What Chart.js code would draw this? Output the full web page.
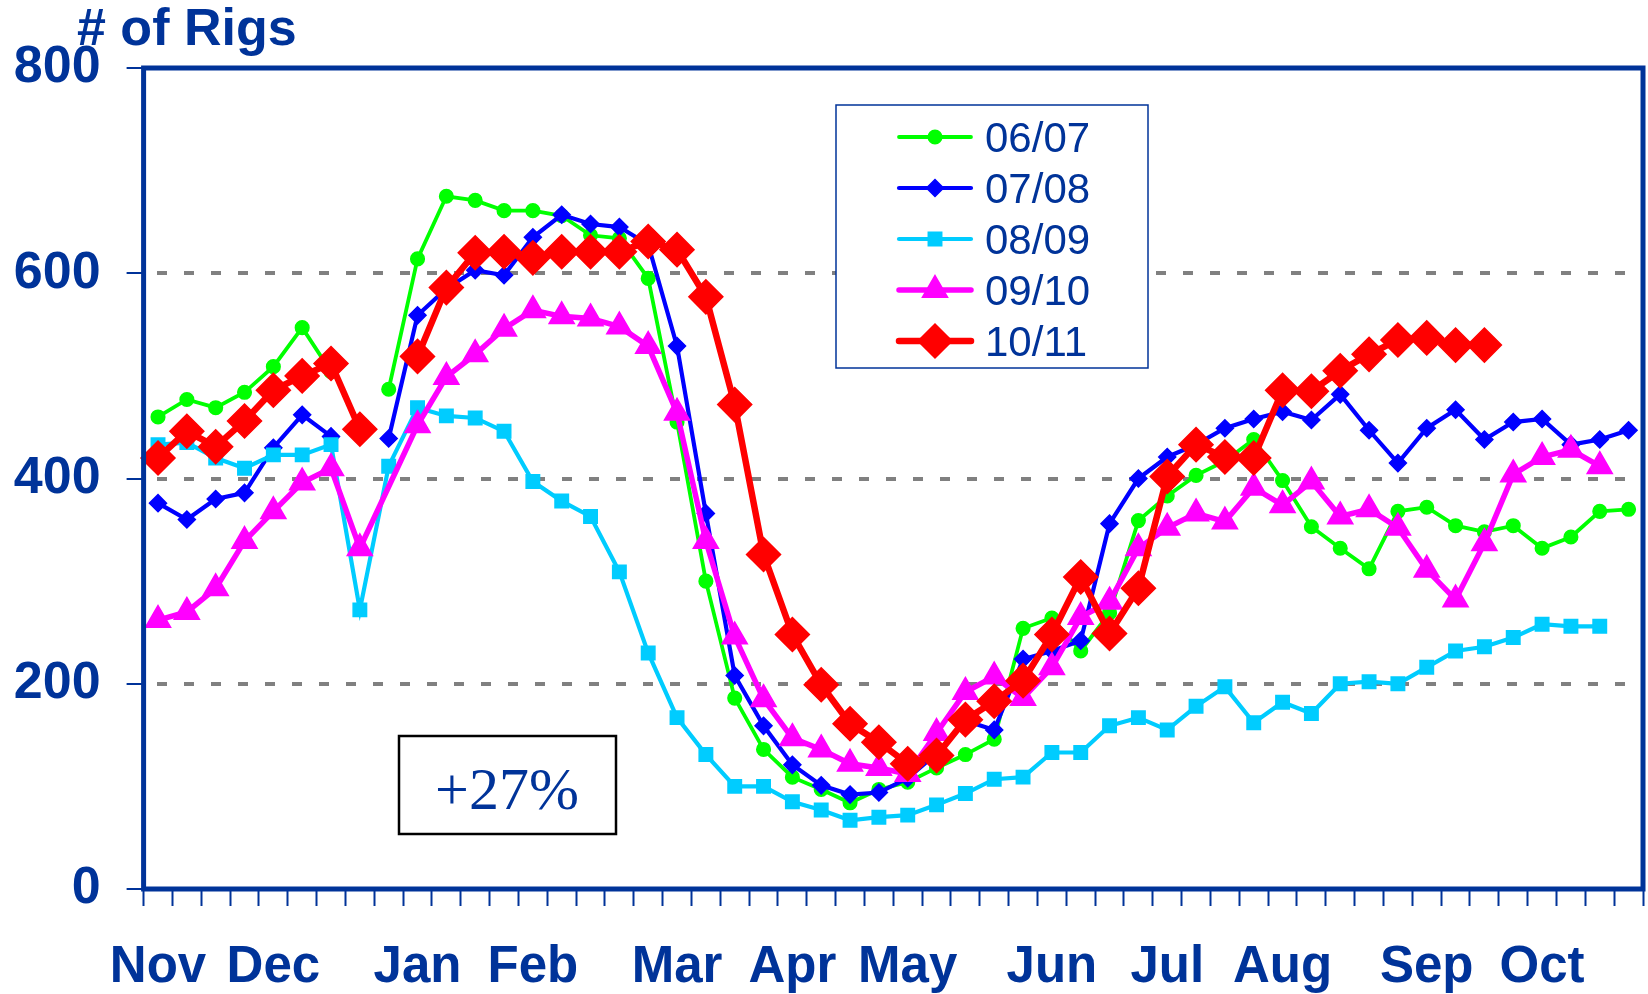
<!DOCTYPE html>
<html lang="en">
<head>
  <meta charset="UTF-8">
  <title># of Rigs</title>
  <script src="https://cdn.jsdelivr.net/npm/chart.js"></script>
  <style>
    html, body { margin: 0; padding: 0; background: #ffffff; }
    #wrap { width: 1648px; height: 994px; }
  </style>
</head>
<body>
  <div id="wrap"><canvas id="rigChart" width="1648" height="994"></canvas></div>

  <script>
    // weekly rig counts, Nov .. Oct (52 weeks)
    const weekLabels = [
      'Nov', '', '', '',
      'Dec', '', '', '', '',
      'Jan', '', '', '',
      'Feb', '', '', '', '',
      'Mar', '', '', '',
      'Apr', '', '', '',
      'May', '', '', '', '',
      'Jun', '', '', '',
      'Jul', '', '', '',
      'Aug', '', '', '', '',
      'Sep', '', '', '',
      'Oct', '', '', ''
    ];

    const seriesNames = ['06/07', '07/08', '08/09', '09/10', '10/11'];

    const rigs0607 = [460, 477, 469, 484, 509, 547, 504, null, 487, 614,
      675, 671, 661, 661, 656, 637, 634, 595, 455, 300,
      186, 136, 109, 97, 84, 97, 104, 118, 131, 146,
      254, 264, 232, 269, 359, 383, 403, 417, 438, 398,
      353, 332, 312, 368, 372, 354, 348, 354, 332, 343,
      368, 370];

    const rigs0708 = [376, 360, 380, 386, 430, 462, 441, null, 439, 559,
      585, 603, 598, 635, 657, 648, 645, 628, 529, 366,
      208, 159, 121, 101, 92, 94, 108, 132, 164, 155,
      224, 232, 242, 356, 400, 421, 433, 449, 458, 465,
      457, 482, 447, 415, 449, 467, 438, 455, 458, 433,
      438, 447];

    const rigs0809 = [433, 435, 420, 410, 423, 423, 433, 272, 412, 469,
      461, 459, 446, 397, 378, 363, 309, 230, 167, 131,
      100, 100, 85, 77, 67, 70, 72, 82, 93, 107,
      109, 133, 133, 159, 167, 155, 178, 197, 162, 182,
      171, 200, 202, 200, 216, 232, 236, 245, 258, 256,
      256, null];

    const rigs0910 = [262, 270, 293, 339, 368, 396, 410, 332, null, 452,
      499, 521, 546, 564, 558, 556, 548, 529, 464, 339,
      246, 185, 147, 136, 122, 118, 112, 152, 192, 207,
      186, 216, 265, 280, 332, 352, 366, 358, 391, 374,
      397, 363, 370, 352, 311, 282, 337, 404, 421, 428,
      412, null];

    const rigs1011 = [420, 446, 431, 456, 486, 500, 512, 448, null, 519,
      586, 620, 621, 615, 621, 621, 621, 631, 623, 577,
      472, 326, 248, 199, 161, 143, 122, 130, 165, 183,
      203, 248, 304, 249, 293, 402, 433, 421, 420, 486,
      485, 505, 521, 535, 537, 530, 530, null, null, null,
      null, null];

    const yTicks = [0, 200, 400, 600, 800];
    const annotationText = '+27%';

    const navy = '#003399';
    const sansFont = "'Liberation Sans', Arial, sans-serif";

    // look of each series: colour, marker, sizes
    const styles = [
      { color: '#00FF00', point: 'circle',   radius: 6.8,  line: 3.8, spanGaps: false },
      { color: '#0000FF', point: 'rectRot',  radius: 8.5,  line: 4.2, spanGaps: false },
      { color: '#00CCFF', point: 'rect',     radius: 9.5,  line: 4.2, spanGaps: false },
      { color: '#FF00FF', point: 'triangle', radius: 14.5, line: 5.5, spanGaps: true },
      { color: '#FF0000', point: 'rectRot',  radius: 17,   line: 6.5, spanGaps: false }
    ];

    const allSeries = [rigs0607, rigs0708, rigs0809, rigs0910, rigs1011];

    const datasets = allSeries.map((values, i) => ({
      label: seriesNames[i],
      data: values,
      borderColor: styles[i].color,
      backgroundColor: styles[i].color,
      pointBackgroundColor: styles[i].color,
      pointBorderColor: styles[i].color,
      pointBorderWidth: 1.5,
      pointStyle: styles[i].point,
      pointRadius: styles[i].radius,
      pointHoverRadius: styles[i].radius,
      borderWidth: styles[i].line,
      spanGaps: styles[i].spanGaps,
      tension: 0,
      fill: false,
      order: allSeries.length - i   // later seasons drawn on top
    }));

    // frame, title, legend box and the "+27%" note
    const overlayPlugin = {
      id: 'overlay',
      afterDatasetsDraw(chart) {
        const { ctx, chartArea: a } = chart;
        ctx.save();

        // plot frame
        ctx.strokeStyle = navy;
        ctx.lineWidth = 5;
        ctx.strokeRect(a.left, a.top, a.right - a.left, a.bottom - a.top);

        // axis title
        ctx.fillStyle = navy;
        ctx.font = 'bold 52px ' + sansFont;
        ctx.textBaseline = 'alphabetic';
        ctx.textAlign = 'left';
        ctx.fillText('# of Rigs', 77, 45);

        // legend
        ctx.fillStyle = '#ffffff';
        ctx.fillRect(836, 105, 312, 263);
        ctx.strokeStyle = navy;
        ctx.lineWidth = 1.5;
        ctx.strokeRect(836, 105, 312, 263);

        ctx.font = '42px ' + sansFont;
        styles.forEach((s, i) => {
          const y = 137 + i * 51;
          ctx.strokeStyle = s.color;
          ctx.fillStyle = s.color;
          ctx.lineWidth = s.line;
          ctx.lineCap = 'round';
          ctx.beginPath();
          ctx.moveTo(899, y);
          ctx.lineTo(971, y);
          ctx.stroke();
          ctx.lineWidth = 1.5;
          Chart.helpers.drawPoint(ctx, { pointStyle: s.point, radius: s.radius, rotation: 0, borderWidth: 1.5 }, 935, y);
          ctx.fillStyle = navy;
          ctx.fillText(seriesNames[i], 985, y + 15);
        });

        // note box
        ctx.fillStyle = '#ffffff';
        ctx.fillRect(399, 736, 217, 98);
        ctx.strokeStyle = '#000000';
        ctx.lineWidth = 2.5;
        ctx.strokeRect(399, 736, 217, 98);
        ctx.fillStyle = navy;
        ctx.font = "60px 'Liberation Serif', 'Times New Roman', serif";
        ctx.textAlign = 'center';
        ctx.fillText(annotationText, 507, 809);

        ctx.restore();
      }
    };

    new Chart(document.getElementById('rigChart'), {
      type: 'line',
      data: {
        labels: weekLabels,
        datasets: datasets
      },
      options: {
        responsive: false,
        animation: false,
        devicePixelRatio: 1,
        layout: {
          autoPadding: false,
          padding: { top: 68, right: 5, bottom: 0, left: 0 }
        },
        plugins: {
          legend: { display: false },
          title: { display: false },
          tooltip: { enabled: false }
        },
        scales: {
          x: {
            type: 'category',
            offset: true,
            afterFit(scale) {
              scale.height = 105;
              scale.paddingLeft = 0;
              scale.paddingRight = 0;
            },
            border: { display: false },
            grid: {
              offset: true,
              drawOnChartArea: false,
              drawTicks: true,
              tickLength: 17,
              tickColor: navy,
              tickWidth: 2
            },
            ticks: {
              autoSkip: false,
              maxRotation: 0,
              minRotation: 0,
              padding: 31,
              color: navy,
              font: { family: sansFont, size: 51, weight: 'bold' }
            }
          },
          y: {
            min: 0,
            max: 800,
            afterFit(scale) {
              scale.width = 143.6;
              scale.paddingTop = 0;
              scale.paddingBottom = 0;
            },
            afterBuildTicks(scale) {
              scale.ticks = yTicks.map(v => ({ value: v }));
            },
            border: { display: false, dash: [10, 17], dashOffset: 14 },
            grid: {
              color: c => (c.tick && c.tick.value > 0 && c.tick.value < 800) ? '#808080' : 'rgba(0,0,0,0)',
              lineWidth: 4,
              drawTicks: true,
              tickLength: 17,
              tickColor: navy,
              tickWidth: 2,
              tickBorderDash: []
            },
            ticks: {
              padding: 26,
              color: navy,
              font: { family: sansFont, size: 52, weight: 'bold' }
            }
          }
        }
      },
      plugins: [overlayPlugin]
    });
  </script>
</body>
</html>
